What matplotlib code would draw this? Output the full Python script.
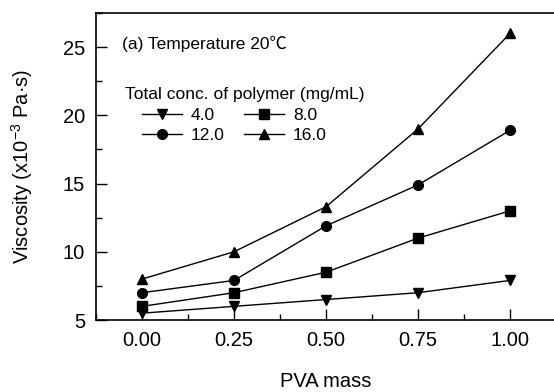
import matplotlib
matplotlib.use("Agg")
import matplotlib.pyplot as plt
from matplotlib.ticker import MultipleLocator

plt.rcParams['font.family'] = ['Liberation Sans', 'Noto Sans CJK SC', 'DejaVu Sans']
plt.rcParams['mathtext.fontset'] = 'custom'
plt.rcParams['mathtext.rm'] = 'Liberation Sans'

# data
pva_mass = [0.00, 0.25, 0.50, 0.75, 1.00]
conc_labels = ['4.0', '8.0', '12.0', '16.0']
visc_4 = [5.5, 6.0, 6.5, 7.0, 7.9]
visc_8 = [6.0, 7.0, 8.5, 11.0, 13.0]
visc_12 = [7.0, 7.9, 11.9, 14.9, 18.9]
visc_16 = [8.0, 10.0, 13.3, 19.0, 26.0]
markers = ['v', 's', 'o', '^']

fig = plt.figure(figsize=(5.54, 3.92), dpi=100)
ax = fig.add_axes([96 / 554, 1 - 320 / 392, 460 / 554, 307 / 392])

lines = []
for vals, lab, mk in zip([visc_4, visc_8, visc_12, visc_16], conc_labels, markers):
  ln, = ax.plot(pva_mass, vals, color='black', lw=1.0, marker=mk, ms=7, label=lab)
  lines.append(ln)

ax.set_xlim(-0.125, 1.125)
ax.set_ylim(5, 27.5)
ax.xaxis.set_minor_locator(MultipleLocator(0.125))
ax.yaxis.set_major_locator(MultipleLocator(5))
ax.yaxis.set_minor_locator(MultipleLocator(2.5))
ax.set_xticks(pva_mass)
ax.set_xticklabels(['0.00', '0.25', '0.50', '0.75', '1.00'])
ax.tick_params(which='both', direction='in', top=False, right=False,
               labelsize=14.5, width=1)
ax.tick_params(which='major', length=8, pad=8)
ax.tick_params(which='minor', length=4)
ax.spines['right'].set_visible(False)
for s in ['left', 'bottom', 'top']:
  ax.spines[s].set_linewidth(1.2)

ax.set_xlabel('PVA mass', fontsize=14.5, labelpad=16)
ax.set_ylabel('Viscosity (x10$^{-3}$ Pa·s)', fontsize=14.5, labelpad=20)

ax.text(0.057, 0.899, '(a) Temperature 20℃', transform=ax.transAxes,
        fontsize=12.5, va='center', ha='left')
ax.text(0.063, 0.733, 'Total conc. of polymer (mg/mL)', transform=ax.transAxes,
        fontsize=12.5, va='center', ha='left')

# matplotlib fills legend columns first, so reorder to get 4.0 / 8.0 on the top row
order = [0, 2, 1, 3]
leg = ax.legend([lines[i] for i in order], [conc_labels[i] for i in order],
                ncol=2, loc='upper left', bbox_to_anchor=(0.1, 0.69),
                frameon=False, fontsize=12.5, handlelength=2.3,
                handletextpad=0.5, columnspacing=1.15, labelspacing=0.25,
                borderpad=0.0, borderaxespad=0.0)

fig.savefig('out.png', dpi=100)
